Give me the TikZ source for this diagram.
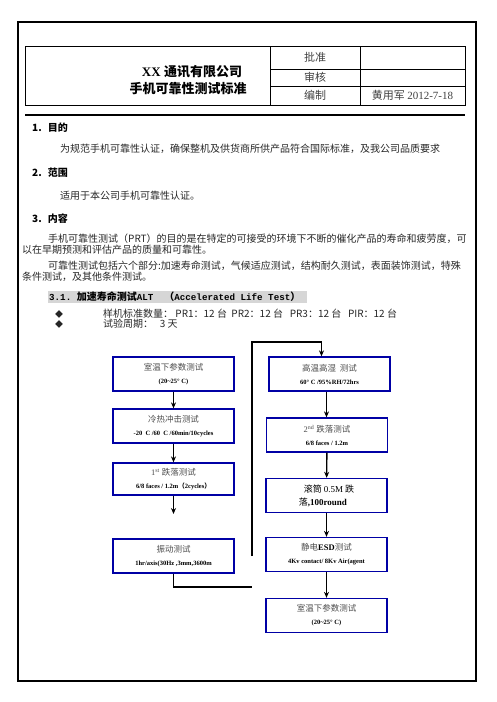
\documentclass[tikz,border=0pt]{standalone}
\usepackage{fontspec}
\setmainfont{Liberation Serif}
\setmonofont{Liberation Mono}
\newfontfamily\zh{Noto Sans CJK SC}
\usetikzlibrary{positioning}
\usetikzlibrary{arrows.meta}
\definecolor{boxblue}{RGB}{0,0,165}
\definecolor{bandgray}{RGB}{214,214,214}
\newcommand\boxtitle[1]{{\zh\fontsize{8.5}{10}\selectfont\color{black!70}#1}}
\newcommand\boxnote[1]{{\fontsize{6.5}{8}\selectfont\bfseries #1}}

\begin{document}
\begin{tikzpicture}[x=1pt,y=-1pt,
  testbox/.style={draw=boxblue, line width=1.3pt, minimum width=121pt, minimum height=34pt, inner sep=0pt, align=center},
  flow/.style={-{Stealth[length=6pt,width=5pt]}, line width=1.4pt},
  bodytext/.style={anchor=west, inner sep=0pt, text=black!85, font=\zh\fontsize{10}{12}\selectfont},
  headtext/.style={anchor=west, inner sep=0pt, font=\zh\bfseries\fontsize{10}{12}\selectfont},
  celltext/.style={inner sep=0pt, text=black!75, font=\zh\fontsize{11}{13}\selectfont}]
\useasboundingbox (0,0) rectangle (496,702);
% page frame
\draw[line width=1.3pt] (18,22) rectangle (476,681);
% header table
\draw[line width=0.9pt] (25,46) rectangle (465,105);
\draw[line width=0.9pt] (270,46) -- (270,105);
\draw[line width=0.9pt] (360,46) -- (360,105);
\draw[line width=0.9pt] (270,69) -- (465,69);
\draw[line width=0.9pt] (270,86) -- (465,86);
\draw[line width=1.1pt] (25,115) -- (465,115);
\node[inner sep=0pt, font=\bfseries\fontsize{13}{15}\selectfont] (company) at (192,72) {XX {\zh 通讯有限公司}};
\node[inner sep=0pt, font=\zh\bfseries\fontsize{13}{15}\selectfont] (standard) at (188,89) {手机可靠性测试标准};
\node[celltext] (approve) at (315,57.5) {批准};
\node[celltext] (review) at (315,77.5) {审核};
\node[celltext] (compile) at (315,95.5) {编制};
\node[celltext] (author) at (412.5,95.5) {黄用军 {\fontsize{11}{13}\selectfont\rmfamily 2012-7-18}};
% sections
\node[headtext] (purpose) at (32,128) {1.\hspace{6pt}目的};
\node[bodytext] (purposetxt) at (60,149) {为规范手机可靠性认证，确保整机及供货商所供产品符合国际标准，及我公司品质要求};
\node[headtext] (scope) at (32,173) {2.\hspace{6pt}范围};
\node[bodytext] (scopetxt) at (60,196) {适用于本公司手机可靠性认证。};
\node[headtext] (content) at (32,219) {3.\hspace{6pt}内容};
\node[bodytext] (parta) at (48,239) {手机可靠性测试（PRT）的目的是在特定的可接受的环境下不断的催化产品的寿命和疲劳度，可};
\node[bodytext] (partb) at (22,250) {以在早期预测和评估产品的质量和可靠性。};
\node[bodytext] (partc) at (48,266) {可靠性测试包括六个部分:加速寿命测试，气候适应测试，结构耐久测试，表面装饰测试，特殊};
\node[bodytext] (partd) at (22,277) {条件测试，及其他条件测试。};
% 3.1 band
\fill[bandgray] (48,291) rectangle (307,303);
\node[anchor=west, inner sep=0pt, font=\ttfamily\bfseries\fontsize{9.2}{11}\selectfont] (alt) at (49,297)
  {3.1.\ {\zh\fontsize{10}{12}\selectfont 加速寿命测试}ALT\ \ {\zh\fontsize{10}{12}\selectfont （}Accelerated Life Test{\zh\fontsize{10}{12}\selectfont ）}};
\node[bodytext, font=\zh\fontsize{8}{10}\selectfont] (dota) at (55,314) {◆};
\node[bodytext, font=\zh\fontsize{8}{10}\selectfont] (dotb) at (55,324) {◆};
\node[bodytext] (samples) at (103,314) {样机标准数量： PR1：12 台\ \ PR2：12 台\ \ \ PR3：12 台\ \ \ PIR：12 台};
\node[bodytext] (period) at (103,324) {试验周期：\ \ \ 3 天};
% left column
\node[testbox] (roomtemp) at (173.5,374) {\boxtitle{室温下参数测试}\\[1pt]\boxnote{(20\textasciitilde25° C)}};
\node[testbox] (thermal) at (173.5,426) {\boxtitle{冷热冲击测试}\\[1pt]\boxnote{-20\ \ C /60\ \ C /60min/10cycles}};
\node[testbox, minimum height=32pt] (dropa) at (173.5,479) {{\fontsize{8.5}{10}\selectfont\color{black!70}1\textsuperscript{st}\ }\boxtitle{跌落测试}\\[1pt]\boxnote{6/8 faces / 1.2m{\zh （}2cycles{\zh ）}}};
\node[testbox] (vibration) at (173.5,556) {\boxtitle{振动测试}\\[1pt]\boxnote{1hr/axis(30Hz ,3mm,3600m}};
% right column
\node[testbox] (humid) at (329.5,374) {\boxtitle{高温高湿\ \ 测试}\\[1pt]\boxnote{60° C /95\%RH/72hrs}};
\node[testbox] (dropb) at (327,435) {{\fontsize{8.5}{10}\selectfont\color{black!70}2\textsuperscript{nd}\ }\boxtitle{跌落测试}\\[1pt]\boxnote{6/8 faces / 1.2m}};
\node[testbox, align=left] (tumble) at (326.5,495.5) {\hspace*{5pt}{\zh\fontsize{9}{11}\selectfont 滚筒 }{\fontsize{9}{11}\selectfont 0.5M}{\zh\fontsize{9}{11}\selectfont\ 跌}\\[1pt]{\zh\fontsize{9}{11}\selectfont 落}{\fontsize{9}{11}\selectfont\bfseries ,100round}};
\node[testbox] (esd) at (326.5,554.5) {\boxtitle{静电}{\fontsize{8.5}{10}\selectfont\bfseries ESD}\boxtitle{测试}\\[1pt]\boxnote{4Kv contact/ 8Kv Air(agent}};
\node[testbox] (roomtempb) at (326.5,615.5) {\boxtitle{室温下参数测试}\\[1pt]\boxnote{(20\textasciitilde25° C)}};
% connectors
\coordinate (stub) at (173.5,514);
\coordinate (turnlow) at (252,587);
\coordinate (gaptop) at (252,556);
\coordinate (turnhigh) at (252,342);
\draw[flow] (roomtemp) -- (thermal);
\draw[flow] (thermal) -- (dropa);
\draw[flow] (dropa) -- (stub);
\draw[line width=1.4pt] (vibration.south) |- (turnlow);
\draw[flow] (gaptop) -- (turnhigh) -| ([xshift=-8pt]humid.north);
\draw[flow] ([xshift=-3pt]humid.south) -- ([xshift=-3pt]dropb.north -| humid.south);
\draw[flow] (dropb) -- (tumble);
\draw[flow] (tumble) -- (esd);
\draw[flow] (esd) -- (roomtempb);
\end{tikzpicture}
\end{document}
